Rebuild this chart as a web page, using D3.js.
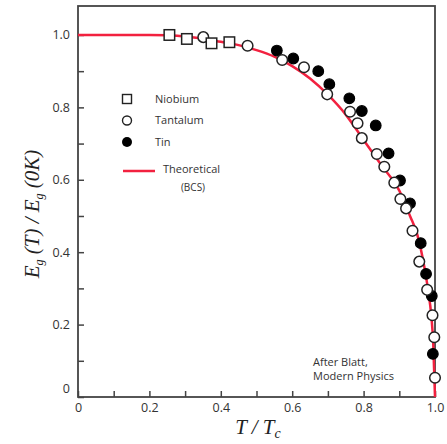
<!DOCTYPE html>
<html>
<head>
<meta charset="utf-8">
<script src="https://cdn.jsdelivr.net/npm/d3@7"></script>
<style>
  body { margin: 0; background: #fff; }
  text { font-family: 'Open Sans', 'Liberation Sans', sans-serif; fill: #333; }
  .math { font-family: 'Liberation Serif', 'DejaVu Serif', serif; font-style: italic; fill: #222; }
</style>
</head>
<body>
<script>
const [width, height] = [447, 444];

// measured points, T/Tc vs Eg(T)/Eg(0K)
const niobiumT = [0.256, 0.305, 0.374, 0.424];
const niobiumE = [1.0, 0.989, 0.977, 0.980];

const tantalumT = [0.351, 0.475, 0.572, 0.633, 0.698, 0.762, 0.783, 0.795, 0.837, 0.858, 0.886, 0.903, 0.919, 0.937, 0.956, 0.978, 0.993, 0.998, 1.0];
const tantalumE = [0.994, 0.970, 0.931, 0.911, 0.836, 0.788, 0.756, 0.715, 0.671, 0.636, 0.592, 0.547, 0.521, 0.459, 0.374, 0.296, 0.226, 0.165, 0.053];

const tinT = [0.557, 0.603, 0.673, 0.704, 0.760, 0.795, 0.834, 0.870, 0.902, 0.930, 0.960, 0.975, 0.991, 0.994];
const tinE = [0.957, 0.935, 0.900, 0.864, 0.825, 0.790, 0.750, 0.673, 0.598, 0.535, 0.425, 0.340, 0.279, 0.119];

// BCS curve
const bcsT = [0, 0.2, 0.25, 0.3, 0.35, 0.4, 0.45, 0.5, 0.55, 0.6, 0.65, 0.7, 0.75, 0.8, 0.85, 0.9, 0.93, 0.95, 0.97, 0.98, 0.99, 0.995, 1.0];
const bcsE = [1.0, 1.0, 0.999, 0.996, 0.99, 0.981, 0.972, 0.958, 0.94, 0.914, 0.88, 0.835, 0.78, 0.71, 0.64, 0.57, 0.50, 0.45, 0.36, 0.30, 0.22, 0.15, 0.0];

const xTicks = [0, 0.1, 0.2, 0.3, 0.4, 0.5, 0.6, 0.7, 0.8, 0.9, 1.0];
const xTickLabels = ['0', '', '0.2', '', '0.4', '', '0.6', '', '0.8', '', '1.0'];
const yTicks = [0, 0.1, 0.2, 0.3, 0.4, 0.5, 0.6, 0.7, 0.8, 0.9, 1.0];
const yTickLabels = ['0', '', '0.2', '', '0.4', '', '0.6', '', '0.8', '', '1.0'];

const legendNames = ['Niobium', 'Tantalum', 'Tin'];

const margin = {top: 6, right: 12, bottom: 47, left: 78};

const svg = d3.select('body')
  .append('svg')
  .attr('width', width)
  .attr('height', height);

const xScale = d3.scaleLinear()
  .domain([0, 1.0])
  .range([margin.left, width - margin.right]);
const yScale = d3.scaleLinear()
  .domain([0, 1.08])
  .range([height - margin.bottom, margin.top]);

const frameColor = '#444';

// x axis, ticks pointing in
const gx = svg.append('g')
  .attr('transform', `translate(0, ${height - margin.bottom})`)
  .call(d3.axisBottom(xScale)
    .tickValues(xTicks)
    .tickSize(-6)
    .tickPadding(6)
    .tickFormat((d, i) => xTickLabels[i]));
const gy = svg.append('g')
  .attr('transform', `translate(${margin.left}, 0)`)
  .call(d3.axisLeft(yScale)
    .tickValues(yTicks)
    .tickSize(-6)
    .tickPadding(8)
    .tickFormat((d, i) => yTickLabels[i]));

[gx, gy].forEach(g => {
  g.select('.domain').remove();
  g.selectAll('.tick line').attr('stroke', frameColor).attr('stroke-width', 1.5);
  g.selectAll('.tick text')
    .attr('fill', '#333')
    .style('font-size', '12.5px')
    .style('font-family', "'Open Sans', 'Liberation Sans', sans-serif");
});
// "0" on the y axis sits a little above its tick
gy.selectAll('.tick text').filter(d => d === 0).attr('dy', '-0.4em');

svg.append('rect')
  .attr('x', xScale(0))
  .attr('y', yScale(1.08))
  .attr('width', xScale(1.0) - xScale(0))
  .attr('height', yScale(0) - yScale(1.08))
  .attr('fill', 'none')
  .attr('stroke', frameColor)
  .attr('stroke-width', 1.8);

// theoretical curve
const line = d3.line()
  .x(d => xScale(d[0]))
  .y(d => yScale(d[1]))
  .curve(d3.curveMonotoneX);
svg.append('path')
  .datum(d3.zip(bcsT, bcsE))
  .attr('d', line)
  .attr('fill', 'none')
  .attr('stroke', '#f2213f')
  .attr('stroke-width', 2.5);

const r = 5.3;
svg.append('g')
  .selectAll('circle')
  .data(d3.zip(tinT, tinE))
  .join('circle')
  .attr('cx', d => xScale(d[0]))
  .attr('cy', d => yScale(d[1]))
  .attr('r', r)
  .attr('fill', '#000')
  .attr('stroke', '#000')
  .attr('stroke-width', 1.2);

svg.append('g')
  .selectAll('circle')
  .data(d3.zip(tantalumT, tantalumE))
  .join('circle')
  .attr('cx', d => xScale(d[0]))
  .attr('cy', d => yScale(d[1]))
  .attr('r', r)
  .attr('fill', '#fff')
  .attr('stroke', '#222')
  .attr('stroke-width', 1.5);

const sq = 10.5;
svg.append('g')
  .selectAll('rect')
  .data(d3.zip(niobiumT, niobiumE))
  .join('rect')
  .attr('x', d => xScale(d[0]) - sq / 2)
  .attr('y', d => yScale(d[1]) - sq / 2)
  .attr('width', sq)
  .attr('height', sq)
  .attr('fill', '#fff')
  .attr('stroke', '#222')
  .attr('stroke-width', 1.5);

// legend
const legend = svg.append('g')
  .attr('transform', 'translate(127, 99)');
const leg = legend.selectAll('g')
  .data(legendNames)
  .join('g')
  .attr('transform', (d, i) => `translate(0, ${i * 21.5})`);
leg.filter((d, i) => i === 0).append('rect')
  .attr('x', -4.5).attr('y', -4.5).attr('width', 9).attr('height', 9)
  .attr('fill', '#fff').attr('stroke', '#222').attr('stroke-width', 1.4);
leg.filter((d, i) => i === 1).append('circle')
  .attr('r', 4.5).attr('fill', '#fff').attr('stroke', '#222').attr('stroke-width', 1.4);
leg.filter((d, i) => i === 2).append('circle')
  .attr('r', 5).attr('fill', '#000');
leg.append('text')
  .attr('x', 28)
  .attr('dy', '0.35em')
  .style('font-size', '11px')
  .text(d => d);

legend.append('line')
  .attr('x1', -4).attr('x2', 28)
  .attr('y1', 72).attr('y2', 72)
  .attr('stroke', '#f2213f')
  .attr('stroke-width', 2.5);
legend.append('text')
  .attr('x', 36).attr('y', 70)
  .attr('dy', '0.35em')
  .style('font-size', '11px')
  .text('Theoretical');
legend.append('text')
  .attr('x', 66).attr('y', 88)
  .attr('dy', '0.35em')
  .attr('text-anchor', 'middle')
  .style('font-size', '10px')
  .text('(BCS)');

// source note
const note = svg.append('g')
  .attr('transform', 'translate(313, 362)');
note.append('text').attr('dy', '0.35em').style('font-size', '11px').text('After Blatt,');
note.append('text').attr('y', 14).attr('dy', '0.35em').style('font-size', '11px').text('Modern Physics');

// axis titles
const xt = svg.append('text')
  .attr('class', 'math')
  .attr('x', 258)
  .attr('y', 434)
  .attr('text-anchor', 'middle')
  .style('font-size', '21px');
xt.append('tspan').text('T / T');
xt.append('tspan').attr('dy', 4).style('font-size', '14px').text('c');

const yt = svg.append('text')
  .attr('class', 'math')
  .attr('transform', 'translate(39, 214) rotate(-90)')
  .attr('text-anchor', 'middle')
  .style('font-size', '21px');
yt.append('tspan').text('E');
yt.append('tspan').attr('dy', 4).style('font-size', '12px').text('g');
yt.append('tspan').attr('dy', -4).text(' (T) / E');
yt.append('tspan').attr('dy', 4).style('font-size', '12px').text('g');
yt.append('tspan').attr('dy', -4).text(' (0K)');
</script>
</body>
</html>
